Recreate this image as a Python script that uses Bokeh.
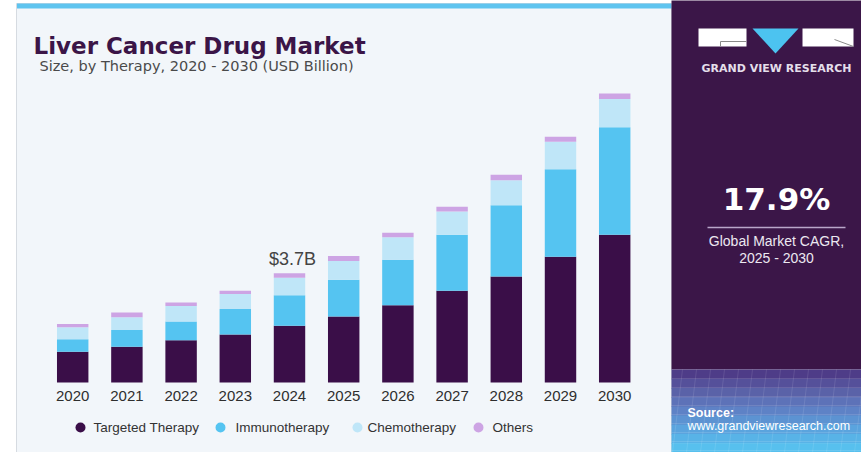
from bokeh.plotting import figure
from bokeh.models import Range1d, ColumnDataSource
from bokeh.core.properties import value
from bokeh.embed import file_html
from bokeh.resources import INLINE

# ---------------- data ----------------
years = [2020, 2021, 2022, 2023, 2024, 2025, 2026, 2027, 2028, 2029, 2030]
year_labels = [str(y) for y in years]
targeted = [1.04, 1.21, 1.43, 1.63, 1.92, 2.24, 2.62, 3.11, 3.59, 4.26, 5.01]
immuno = [0.43, 0.57, 0.64, 0.86, 1.04, 1.24, 1.54, 1.90, 2.42, 2.97, 3.64]
chemo = [0.40, 0.43, 0.52, 0.51, 0.59, 0.64, 0.76, 0.79, 0.85, 0.93, 0.96]
others = [0.11, 0.16, 0.12, 0.11, 0.15, 0.17, 0.16, 0.16, 0.18, 0.17, 0.19]
segments = ["Targeted Therapy", "Immunotherapy", "Chemotherapy", "Others"]
seg_colors = ["#3a0e48", "#55c4f1", "#bfe6f8", "#cda4e4"]
annot_year = 2024
annot_text = "$3.7B"
title_text = "Liver Cancer Drug Market"
subtitle_text = "Size, by Therapy, 2020 - 2030 (USD Billion)"
cagr_text = "17.9%"
cagr_label = ["Global Market CAGR,", "2025 - 2030"]
brand = "GRAND VIEW RESEARCH"
source_lines = ["Source:", "www.grandviewresearch.com"]

# ---------------- layout ----------------
W, H = 861, 452
PX_YEAR = 54.2          # pixels between bar centres
FIRST_X = 72.2          # pixel position of first bar centre
PX_VAL = 29.5           # pixels per USD billion
BASE_Y = 70             # pixel height of the baseline above the bottom

p = figure(width=W, height=H, x_range=Range1d(0, W), y_range=Range1d(0, H),
           output_backend="svg", toolbar_location=None, min_border=0,
           x_axis_location=None, y_axis_location=None,
           outline_line_color=None, background_fill_color="white",
           border_fill_color="white")
p.grid.visible = False

x0 = years[0] - FIRST_X / PX_YEAR
p.extra_x_ranges = {"yr": Range1d(x0, x0 + W / PX_YEAR)}
y0 = -BASE_Y / PX_VAL
p.extra_y_ranges = {"val": Range1d(y0, y0 + H / PX_VAL)}

# left panel
p.quad(left=16, right=671, top=449, bottom=-10, fill_color="#f2f6fa",
       line_color="#d6dbe1", line_width=1)
p.quad(left=16.5, right=671, top=449, bottom=444, fill_color="#5ec4ef", line_color=None)

# right panel
p.quad(left=671, right=W + 5, top=H + 5, bottom=83, fill_color="#3b1648", line_color=None)
grad = ["#4e3c88", "#55509a", "#5a62a8", "#5d72b8", "#5e82c6", "#5c93d2",
        "#5aa4de", "#58b3e7", "#57c0ee"]
step = 83 / len(grad)
for i, c in enumerate(grad):
    p.quad(left=671, right=W + 5, top=83 - i * step, bottom=83 - (i + 1) * step - 0.5,
           fill_color=c, line_color=None)
# faint grid texture
for k in range(1, 10):
    yy = 83 - k * 9
    p.line(x=[671, W + 5], y=[yy, yy], line_color="white", line_alpha=0.12, line_width=1)
for k in range(0, 15):
    xx = 676 + k * 14
    p.line(x=[xx + 6, xx - 4], y=[83, 0], line_color="white", line_alpha=0.10, line_width=1)

# logo
p.quad(left=698, right=746, top=424, bottom=406, fill_color="white", line_color=None)
p.quad(left=802, right=853, top=424, bottom=406, fill_color="white", line_color=None)
p.patch(x=[752, 798, 775], y=[424, 424, 399], fill_color="#4cc3f0", line_color=None)
p.line(x=[720, 720, 746], y=[406, 411, 411], line_color="#8a8a8a", line_width=1)
p.line(x=[834, 853], y=[413, 406], line_color="#8a8a8a", line_width=1)
p.text(x=[776], y=[384], text=[brand], text_align="center", text_baseline="middle",
       text_font=value("DejaVu Sans"), text_font_style="bold", text_font_size="11px",
       text_color="#e4dfea")

# CAGR
p.text(x=[776], y=[254], text=[cagr_text], text_align="center", text_baseline="middle",
       text_font=value("DejaVu Sans"), text_font_style="bold", text_font_size="31px",
       text_color="white")
p.line(x=[707, 845], y=[225, 225], line_color="#b9a6c9", line_width=1.5)
p.text(x=[776, 776], y=[212, 195], text=cagr_label, text_align="center",
       text_baseline="middle", text_font=value("Liberation Sans"),
       text_font_size="14px", text_color="#ece8f1")

# source
p.text(x=[687], y=[40], text=[source_lines[0]], text_align="left", text_baseline="middle",
       text_font=value("Liberation Sans"), text_font_style="bold", text_font_size="12.5px",
       text_color="white")
p.text(x=[687], y=[27], text=[source_lines[1]], text_align="left", text_baseline="middle",
       text_font=value("Liberation Sans"), text_font_size="12.5px", text_color="white")

# titles
p.text(x=[33], y=[407], text=[title_text], text_align="left", text_baseline="alphabetic",
       text_font=value("DejaVu Sans"), text_font_style="bold", text_font_size="23px",
       text_color="#3b1547")
p.text(x=[39], y=[387], text=[subtitle_text], text_align="left", text_baseline="alphabetic",
       text_font=value("DejaVu Sans"), text_font_size="14.5px", text_color="#4a4a4a")

# bars
src = ColumnDataSource(dict(year=years, **{segments[0]: targeted, segments[1]: immuno,
                                          segments[2]: chemo, segments[3]: others}))
p.vbar_stack(segments, x="year", width=0.58, color=seg_colors, source=src,
             x_range_name="yr", y_range_name="val", line_color=None)

# year labels
p.text(x=years, y=[0] * len(years), text=year_labels, x_range_name="yr", y_range_name="val",
       text_align="center", text_baseline="middle", y_offset=13,
       text_font=value("Liberation Sans"), text_font_size="15px", text_color="#2e2e2e")

# annotation
i = years.index(annot_year)
tot = targeted[i] + immuno[i] + chemo[i] + others[i]
p.text(x=[annot_year], y=[tot], text=[annot_text], x_range_name="yr", y_range_name="val",
       text_align="center", text_baseline="alphabetic", y_offset=-14, x_offset=3,
       text_font=value("Liberation Sans"), text_font_size="18px", text_color="#444444")

# legend
leg_cx = [80, 220, 357, 478]
leg_tx = [93, 235, 367, 492]
p.scatter(x=leg_cx, y=[25] * 4, size=10, color=seg_colors, line_color=None)
p.text(x=leg_tx, y=[25] * 4, text=segments, text_align="left", text_baseline="middle",
       text_font=value("Liberation Sans"), text_font_size="13.5px", text_color="#333333")

open("out.html", "w").write(file_html(p, INLINE))
